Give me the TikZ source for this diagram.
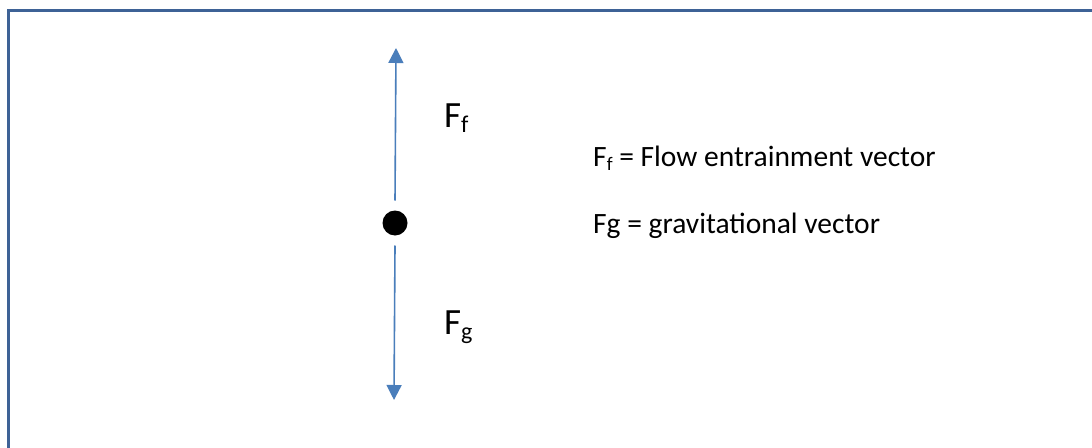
\documentclass[tikz,border=0pt]{standalone}
\usepackage{fontspec}
\setmainfont{Carlito}
\usetikzlibrary{arrows.meta}
\definecolor{framecol}{HTML}{3E6296}
\definecolor{arrcol}{HTML}{4A7EBB}
\tikzset{
  arr/.style={draw=arrcol, line width=1.6pt, -{Triangle[width=15pt,length=15pt]}},
  biglabel/.style={anchor=base west, inner sep=0pt, font=\fontsize{37}{42}\selectfont},
  legend/.style={anchor=base west, inner sep=0pt, font=\fontsize{29.5}{34}\selectfont},
  dotnode/.style={circle, fill=black, minimum size=25pt, inner sep=0pt, outer sep=10pt}
}
\newcommand{\lsub}[1]{\raisebox{-0.15em}{\fontsize{0.65em}{1em}\selectfont #1}}
\begin{document}
\begin{tikzpicture}[x=1pt,y=-1pt]
\useasboundingbox (0,0) rectangle (1092,447);
\fill[white] (0,0) rectangle (1092,447);
\draw[framecol, line width=2.2pt] (8.5,460) -- (8.5,10.5) -- (1100,10.5);
\node[dotnode] (dot) at (395,223) {};
\coordinate (top) at (396,48);
\coordinate (bot) at (394,400);
\draw[arr] (dot.north) -- (top);
\draw[arr] (dot.south) -- (bot);
\node[biglabel] (ff) at (444,127) {F\lsub{f}};
\node[biglabel] (fg) at (444,334) {F\lsub{g}};
\node[legend] (l1) at (593,166) {F\lsub{f} = Flow entrainment vector};
\node[legend] (l2) at (593,233) {Fg = gravitational vector};
\end{tikzpicture}
\end{document}
